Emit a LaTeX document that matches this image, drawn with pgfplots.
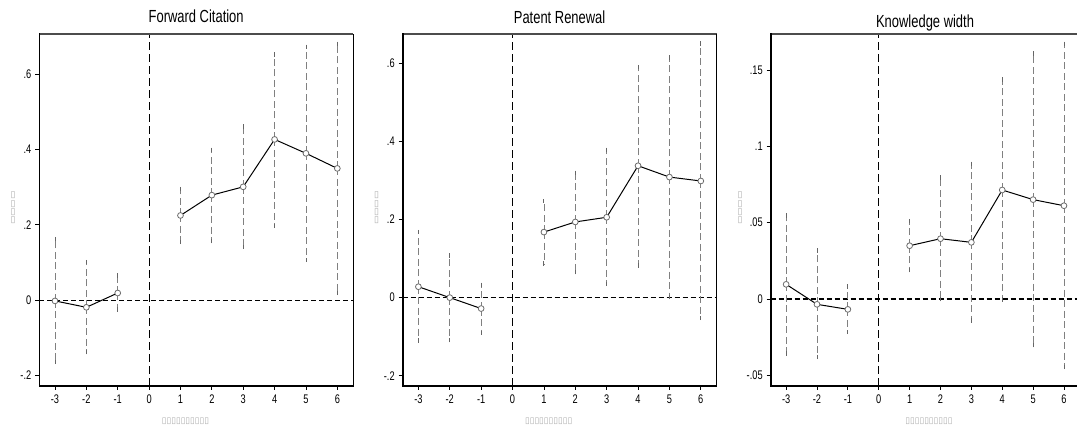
\documentclass[border=0pt]{standalone}
\usepackage{pgfplots}
\pgfplotsset{compat=1.18}
\usepackage{pgfplotstable}
\usepackage{fontspec}
\setmainfont{Liberation Sans}[FakeStretch=0.74]
\newfontfamily\boxfont{DejaVu Sans}

% event-study estimates: x, point estimate, lower and upper bound
\pgfplotstableread{
x y lo hi
-3 -0.002 -0.164 0.162
-2 -0.019 -0.138 0.101
-1 0.019 -0.025 0.065
0 nan nan nan
1 0.225 0.155 0.295
2 0.279 0.157 0.399
3 0.301 0.142 0.461
4 0.427 0.197 0.653
5 0.390 0.107 0.673
6 0.350 0.019 0.681
}\fwd

\pgfplotstableread{
x y lo hi
-3 0.028 -0.110 0.168
-2 0.000 -0.109 0.108
-1 -0.028 -0.090 0.033
0 nan nan nan
1 0.168 0.087 0.247
2 0.194 0.065 0.320
3 0.206 0.035 0.379
4 0.338 0.082 0.591
5 0.309 0.002 0.616
6 0.299 -0.052 0.651
}\renew

\pgfplotstableread{
x y lo hi
-3 0.0096 -0.0356 0.0546
-2 -0.0035 -0.0380 0.0317
-1 -0.0068 -0.0216 0.0081
0 nan nan nan
1 0.0349 0.0188 0.0511
2 0.0395 -0.0002 0.0797
3 0.0371 -0.0140 0.0886
4 0.0714 -0.0004 0.1437
5 0.0651 -0.0303 0.1609
6 0.0611 -0.0445 0.1672
}\kwidth

\pgfplotsset{
  evstyle/.style={
    scale only axis,
    xmin=-3.5, xmax=6.5,
    xtick={-3,...,6},
    xticklabels={-3,-2,-1,0,1,2,3,4,5,6},
    tick align=outside,
    major tick length=4pt,
    xtick pos=left, ytick pos=left,
    tick style={black, line width=0.8pt},
    ticklabel style={font=\fontsize{12.5}{13}\selectfont},
    xticklabel style={yshift=-1pt},
    yticklabel style={xshift=-0.5pt},
    axis line style={draw=none},
    unbounded coords=jump,
    clip=false,
    every axis title shift=0pt,
    title style={at={(0.5,1)}, anchor=base, yshift=11pt,
      font=\fontsize{17.5}{19}\selectfont},
  },
  cibars/.style={
    only marks, mark=none, forget plot,
    error bars/.cd, y dir=both, y explicit,
    error bar style={draw=gray, line width=0.8pt, dash pattern=on 7pt off 3.5pt},
    error mark options={solid, draw=gray!80!black, line width=0.9pt, mark size=2.2pt},
  },
  estline/.style={
    black, line width=1pt, mark=*, mark size=2.9pt,
    mark options={draw=gray!85!black, fill=white, line width=0.8pt},
  },
}

\newcommand{\reflines}{%
  \draw[black, line width=0.8pt, dash pattern=on 8pt off 4pt]
    ({axis cs:0,0} |- {rel axis cs:0,0}) -- ({axis cs:0,0} |- {rel axis cs:0,1});
  \draw[black, line width=1.2pt, dash pattern=on 5pt off 3pt]
    ({rel axis cs:0,0} |- {axis cs:0,0}) -- ({rel axis cs:1,0} |- {axis cs:0,0});
}
\newcommand{\frameaxis}{%
  \draw[gray!60!black, line width=1.8pt] (rel axis cs:0,1) -- (rel axis cs:1,1);
  \draw[black, line width=0.8pt] (rel axis cs:1,0) -- (rel axis cs:1,1);
  \draw[black, line width=1.6pt, line cap=rect] (rel axis cs:0,1) -- (rel axis cs:0,0) -- (rel axis cs:1,0);
}
\newcommand{\ytofu}{\node[align=center, text=gray!65, inner sep=0pt,
  font={\boxfont\fontsize{9}{8.3}\selectfont}] {▯\\▯\\▯\\▯};}

\begin{document}
\begin{tikzpicture}
\useasboundingbox (0,0) rectangle (1077pt,427pt);

% Panel 1
\begin{axis}[evstyle, at={(39.3pt,41pt)}, anchor=south west,
    width=313.7pt, height=352pt,
    ymin=-0.228, ymax=0.707,
    ytick={-0.2,0,0.2,0.4,0.6}, yticklabels={-.2,0,.2,.4,.6},
    title={Forward Citation}]
  \reflines
  \addplot[cibars] table[x=x, y=y,
    y error plus expr=\thisrow{hi}-\thisrow{y},
    y error minus expr=\thisrow{y}-\thisrow{lo}] {\fwd};
  \addplot[estline] table[x=x, y=y] {\fwd};
  \frameaxis
\end{axis}

% Panel 2
\begin{axis}[evstyle, at={(402.7pt,41pt)}, anchor=south west,
    width=313.8pt, height=351.7pt,
    ymin=-0.2265, ymax=0.675,
    ytick={-0.2,0,0.2,0.4,0.6}, yticklabels={-.2,0,.2,.4,.6},
    title={Patent Renewal}]
  \reflines
  \addplot[cibars] table[x=x, y=y,
    y error plus expr=\thisrow{hi}-\thisrow{y},
    y error minus expr=\thisrow{y}-\thisrow{lo}] {\renew};
  \addplot[estline] table[x=x, y=y] {\renew};
  \frameaxis
\end{axis}

% Panel 3
\begin{axis}[evstyle, at={(770.7pt,41pt)}, anchor=south west,
    width=308.7pt, height=352.3pt,
    ymin=-0.057, ymax=0.1738,
    ytick={-0.05,0,0.05,0.1,0.15}, yticklabels={-.05,0,.05,.1,.15},
    title={Knowledge width},
    title style={yshift=-4.5pt}]
  \reflines
  \addplot[cibars] table[x=x, y=y,
    y error plus expr=\thisrow{hi}-\thisrow{y},
    y error minus expr=\thisrow{y}-\thisrow{lo}] {\kwidth};
  \addplot[estline] table[x=x, y=y] {\kwidth};
  \frameaxis
\end{axis}

% axis titles (rendered as missing-glyph boxes in the source)
\begin{scope}[shift={(13pt,219pt)}]\ytofu\end{scope}
\begin{scope}[shift={(376.7pt,219pt)}]\ytofu\end{scope}
\begin{scope}[shift={(740pt,219pt)}]\ytofu\end{scope}
\foreach \xx in {185.5,548.7,929} {
  \node[text=gray!65, inner sep=0pt, font={\boxfont\fontsize{8.6}{9}\selectfont}]
    at (\xx pt,6pt) {▯▯▯▯▯▯▯▯▯▯};
}
\end{tikzpicture}
\end{document}
